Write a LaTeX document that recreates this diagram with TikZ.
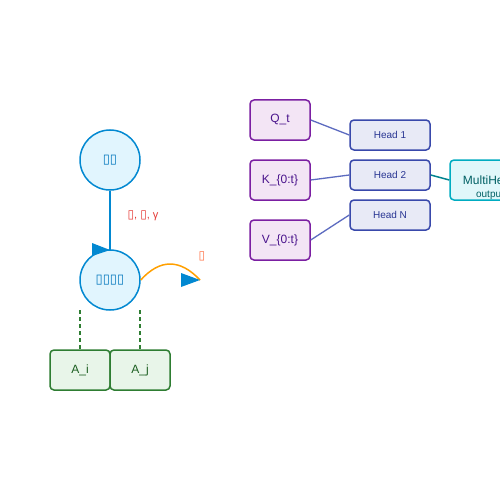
\documentclass[tikz,border=0pt]{standalone}
\usepackage{fontspec}
\setmainfont{Liberation Sans}
\newfontfamily\dv{DejaVu Sans}
\definecolor{cblue}{HTML}{0288D1}
\definecolor{cfill}{HTML}{E1F5FE}
\definecolor{ctext}{HTML}{0277BD}
\definecolor{gstroke}{HTML}{2E7D32}
\definecolor{gfill}{HTML}{E8F5E9}
\definecolor{gtext}{HTML}{1B5E20}
\definecolor{pstroke}{HTML}{7B1FA2}
\definecolor{pfill}{HTML}{F3E5F5}
\definecolor{ptext}{HTML}{4A148C}
\definecolor{hstroke}{HTML}{3949AB}
\definecolor{hfill}{HTML}{E8EAF6}
\definecolor{htext}{HTML}{283593}
\definecolor{hline}{HTML}{5C6BC0}
\definecolor{tstroke}{HTML}{00ACC1}
\definecolor{tfill}{HTML}{E0F7FA}
\definecolor{ttext}{HTML}{006064}
\definecolor{tline}{HTML}{00838F}
\definecolor{orng}{HTML}{FFA000}
\definecolor{lred}{HTML}{E53935}
\definecolor{lorng}{HTML}{FF7043}
\begin{document}
\begin{tikzpicture}[x=1pt,y=-1pt,
  circ/.style={circle,draw=cblue,fill=cfill,line width=1.5pt,minimum size=60pt,inner sep=0pt,text=ctext,font=\dv\fontsize{13}{15}\selectfont},
  gbox/.style={rounded corners=4pt,draw=gstroke,fill=gfill,line width=1.5pt,minimum width=60pt,minimum height=40pt,inner sep=0pt,text=gtext,font=\fontsize{12}{14}\selectfont},
  pbox/.style={rounded corners=4pt,draw=pstroke,fill=pfill,line width=1.5pt,minimum width=60pt,minimum height=40pt,inner sep=0pt,text=ptext,font=\fontsize{12}{14}\selectfont},
  hbox/.style={rounded corners=4pt,draw=hstroke,fill=hfill,line width=1.5pt,minimum width=80pt,minimum height=30pt,inner sep=0pt,text=htext,font=\fontsize{10}{12}\selectfont},
  tbox/.style={rounded corners=4pt,draw=tstroke,fill=tfill,line width=1.5pt,minimum width=80pt,minimum height=40pt,inner sep=0pt},
  tri/.style={fill=cblue}
]
\useasboundingbox (0,0) rectangle (500,500);
\fill[white] (0,0) rectangle (500,500);

% left part
\node[circ] (top) at (110,160) {▯▯};
\node[circ] (bot) at (110,280) {▯▯▯▯};
\coordinate (vend) at (110,250);
\draw[cblue,line width=1.5pt] (top.south) -- (vend);
\fill[tri] (vend) -- ++(-18,-7) -- ++(0,13) -- cycle;
\node[text=lred,font=\fontsize{11}{13}\selectfont,inner sep=0pt] (lab1) at (143,216) {{\dv\fontsize{12}{14}\selectfont ▯}, {\dv\fontsize{12}{14}\selectfont ▯}, γ};

\coordinate (cend) at (200,280);
\draw[orng,line width=1.5pt] (bot.east) .. controls (160,258.7) and (180,258.7) .. (cend);
\fill[tri] (cend) -- ++(-19,-7) -- ++(0,14) -- cycle;
\node[text=lorng,font=\dv\fontsize{12}{14}\selectfont,inner sep=0pt] (lab2) at (202,256) {▯};

\node[gbox] (ai) at (80,370) {A\_i};
\node[gbox] (aj) at (140,370) {A\_j};
\coordinate (d1) at (80,310);
\coordinate (d2) at (140,310);
\draw[gstroke,line width=1.5pt,dash pattern=on 4pt off 3pt] (d1) -- (ai.north);
\draw[gstroke,line width=1.5pt,dash pattern=on 4pt off 3pt] (d2) -- (aj.north);

% right part
\node[pbox] (q) at (280,120) {Q\_t};
\node[pbox] (k) at (280,180) {K\_\{0:t\}};
\node[pbox] (v) at (280,240) {V\_\{0:t\}};
\node[hbox] (h1) at (390,135) {Head 1};
\node[hbox] (h2) at (390,175) {Head 2};
\node[hbox] (hn) at (390,215) {Head N};
\node[tbox] (mh) at (490,180) {};
\node[text=ttext,font=\fontsize{12}{14}\selectfont,inner sep=0pt] (mht) at (490,180) {MultiHead};
\node[text=ttext,font=\fontsize{10}{12}\selectfont,inner sep=0pt] (mho) at (490,195) {output};

\draw[hline,line width=1.3pt] (q.east) -- (h1.west);
\draw[hline,line width=1.3pt] (k.east) -- (h2.west);
\draw[hline,line width=1.3pt] (v.east) -- (hn.west);
\draw[tline,line width=1.5pt] (h2.east) -- (mh.west);
\end{tikzpicture}
\end{document}
